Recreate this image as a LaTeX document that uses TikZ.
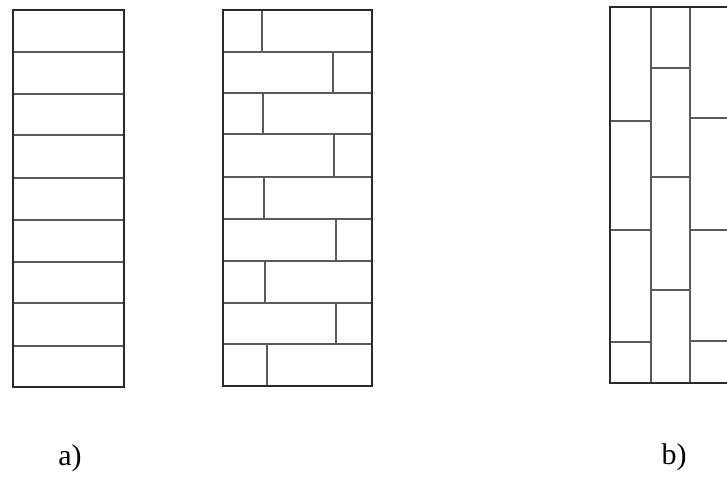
\documentclass[tikz,border=0pt]{standalone}
\usepackage{fontspec}
\setmainfont{Liberation Serif}
\definecolor{edge}{HTML}{2A2A2A}
\definecolor{seam}{HTML}{5A5A5A}

\begin{document}
\begin{tikzpicture}[x=0.5pt,y=-0.5pt,
  frame/.style={draw=edge,line width=1.2pt},
  joint/.style={draw=seam,line width=0.7pt},
  tag/.style={font=\fontsize{15}{17}\selectfont,inner sep=0pt,anchor=base}]
  \useasboundingbox (0,0) rectangle (727,477);
  \clip (0,0) rectangle (727,477);
  % a) plain courses
  \foreach \ya in {52,94,135,178,220,262,303,346}
    \draw[joint] (13,\ya) -- (124,\ya);
  \draw[frame] (13,10) rectangle (124,387);
  % a) staggered courses
  \foreach \ya in {52,93,134,177,219,261,303,344}
    \draw[joint] (223,\ya) -- (372,\ya);
  \foreach \ya/\yb/\xj in {10/52/262,52/93/333,93/134/263,134/177/334,177/219/264,
                           219/261/336,261/303/265,303/344/336,344/386/267}
    \draw[joint] (\xj,\ya) -- (\xj,\yb);
  \draw[frame] (223,10) rectangle (372,386);
  % b) vertical boards
  \draw[joint] (651,7) -- (651,383); \draw[joint] (690,7) -- (690,383);
  \foreach \ya in {121,230,342} \draw[joint] (610,\ya) -- (651,\ya);
  \foreach \ya in {68,177,290} \draw[joint] (651,\ya) -- (690,\ya);
  \foreach \ya in {118,230,341} \draw[joint] (690,\ya) -- (740,\ya);
  \draw[frame] (610,7) rectangle (731,383);
  \node[tag] (capA) at (70,465) {a)};
  \node[tag] (capB) at (674,464) {b)};
\end{tikzpicture}
\end{document}
